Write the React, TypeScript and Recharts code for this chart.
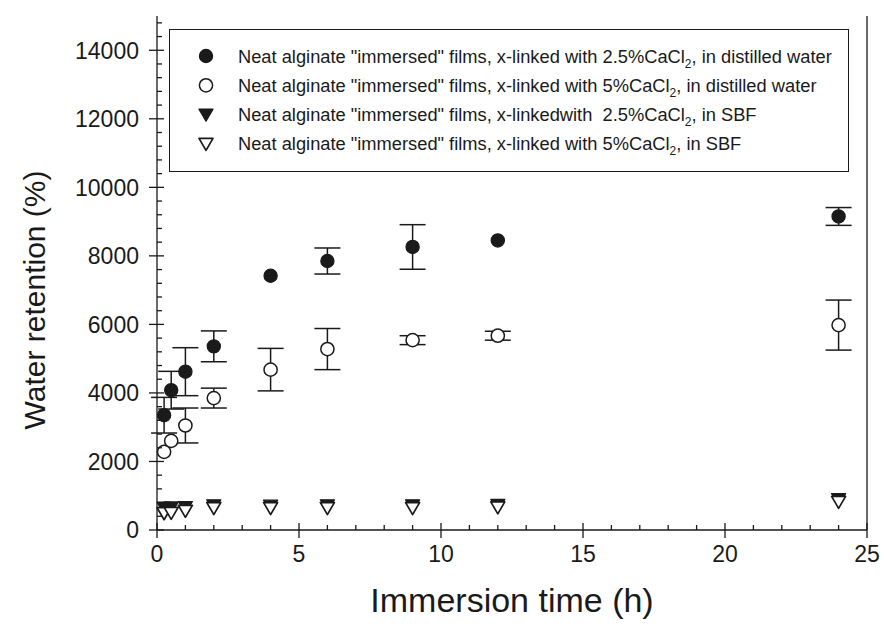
import React from 'react';
import { ScatterChart, Scatter, XAxis, YAxis, ErrorBar, Legend } from 'recharts';

// Immersion time (h)
const times = [0.25, 0.5, 1, 2, 4, 6, 9, 12, 24];
// 2.5% CaCl2, distilled water
const dw25 = [3350, 4080, 4620, 5360, 7420, 7850, 8260, 8450, 9150];
const dw25Err = [520, 550, 700, 450, 0, 380, 650, 0, 260];
// 5% CaCl2, distilled water
const dw5 = [2280, 2600, 3050, 3850, 4680, 5280, 5540, 5670, 5980];
const dw5Err = [0, 0, 510, 290, 620, 600, 130, 130, 730];
// 2.5% CaCl2, SBF
const sbf25 = [650, 660, 670, 720, 710, 720, 720, 730, 900];
// 5% CaCl2, SBF
const sbf5 = [490, 500, 560, 640, 640, 640, 640, 660, 820];

const xAllTicks = Array.from({ length: 26 }, (_, i) => i);
const yAllTicks = Array.from({ length: 38 }, (_, i) => i * 400);

const seriesNames = [
  ['Neat alginate "immersed" films, x-linked with 2.5%CaCl', '2', ', in distilled water'],
  ['Neat alginate "immersed" films, x-linked with 5%CaCl', '2', ', in distilled water'],
  ['Neat alginate "immersed" films, x-linkedwith  2.5%CaCl', '2', ', in SBF'],
  ['Neat alginate "immersed" films, x-linked with 5%CaCl', '2', ', in SBF'],
];
const markerKinds = ['filledCircle', 'openCircle', 'filledTri', 'openTri'];

const xTitle = 'Immersion time (h)';
const yTitle = 'Water retention (%)';

const INK = '#1a1a1a';
const FONT = "'Liberation Sans', Arial, sans-serif";

const mk = (ys: number[], errs?: number[]) =>
  times.map((t, i) => ({ x: t, y: ys[i], err: errs ? errs[i] : 0 }));

const Marker = ({ kind, cx, cy }: { kind: string; cx: number; cy: number }) => {
  if (kind === 'filledCircle')
    return <circle cx={cx} cy={cy} r={6.6} fill={INK} stroke={INK} strokeWidth={1.2} />;
  if (kind === 'openCircle')
    return <circle cx={cx} cy={cy} r={6.6} fill="#fff" stroke={INK} strokeWidth={1.5} />;
  const pts = `${cx - 7},${cy - 5.5} ${cx + 7},${cy - 5.5} ${cx},${cy + 6.5}`;
  if (kind === 'filledTri') return <polygon points={pts} fill={INK} stroke={INK} strokeWidth={1.3} strokeLinejoin="round" />;
  return <polygon points={pts} fill="#fff" stroke={INK} strokeWidth={1.7} strokeLinejoin="round" />;
};

const shapeFor = (kind: string) => (p: any) => <Marker kind={kind} cx={p.cx} cy={p.cy} />;

const XTick = ({ x, y, payload, top }: any) => {
  const v = payload.value;
  const major = v % 5 === 0;
  const s = top ? 1 : -1; // inward direction
  return (
    <g>
      <line x1={x} x2={x} y1={y} y2={y + s * (major ? 7 : 5)} stroke={INK} strokeWidth={1.3} />
      {major && <line x1={x} x2={x} y1={y} y2={y - s * 8} stroke={INK} strokeWidth={1.3} />}
      {major && !top && (
        <text x={x} y={y + 32} textAnchor="middle" fontFamily={FONT} fontSize={23} fill={INK}>
          {v}
        </text>
      )}
    </g>
  );
};

const YTick = ({ x, y, payload, right }: any) => {
  const v = payload.value;
  const major = v % 2000 === 0;
  const s = right ? -1 : 1;
  return (
    <g>
      <line x1={x} x2={x + s * (major ? 7 : 5)} y1={y} y2={y} stroke={INK} strokeWidth={1.3} />
      {major && <line x1={x} x2={x - s * 8} y1={y} y2={y} stroke={INK} strokeWidth={1.3} />}
      {major && !right && (
        <text x={x - 18} y={y} dy="0.36em" textAnchor="end" fontFamily={FONT} fontSize={23} fill={INK}>
          {v}
        </text>
      )}
    </g>
  );
};

const LegendBox = () => (
  <div
    style={{
      width: 680,
      height: 143,
      border: `1.5px solid ${INK}`,
      boxSizing: 'border-box',
      background: '#fff',
    }}
  >
    <svg width={677} height={140} style={{ display: 'block', overflow: 'visible' }}>
      {seriesNames.map((parts, i) => {
        const cy = 26 + i * 29.3;
        return (
          <g key={i}>
            <Marker kind={markerKinds[i]} cx={36} cy={cy} />
            <text
              x={68}
              y={cy}
              dy="0.36em"
              fontFamily={FONT}
              fontSize={18.3}
              fill={INK}
              style={{ whiteSpace: 'pre' }}
            >
              {parts[0]}
              <tspan fontSize={12} dy={5}>{parts[1]}</tspan>
              <tspan dy={-5}>{parts[2]}</tspan>
            </text>
          </g>
        );
      })}
    </svg>
  </div>
);

export default function App() {
  return (
    <div style={{ position: 'absolute', left: 0, top: 0, width: 884, height: 626, background: '#fff' }}>
      <ScatterChart width={884} height={626} margin={{ top: 16, right: 0, bottom: 0, left: 0 }}>
        <XAxis
          xAxisId={0}
          dataKey="x"
          type="number"
          domain={[0, 25]}
          ticks={xAllTicks}
          interval={0}
          height={96}
          tickSize={0}
          tickMargin={0}
          tickLine={false}
          axisLine={{ stroke: INK, strokeWidth: 1.3 }}
          tick={<XTick />}
          label={() => (
            <text x={512} y={612} textAnchor="middle" fontFamily={FONT} fontSize={34} fill={INK}>
              {xTitle}
            </text>
          )}
        />
        <XAxis
          xAxisId="top"
          orientation="top"
          type="number"
          dataKey="x"
          domain={[0, 25]}
          ticks={xAllTicks}
          interval={0}
          height={0}
          tickSize={0}
          tickMargin={0}
          tickLine={false}
          axisLine={{ stroke: INK, strokeWidth: 1.3 }}
          tick={<XTick top />}
        />
        <YAxis
          yAxisId={0}
          dataKey="y"
          type="number"
          domain={[0, 15000]}
          ticks={yAllTicks}
          interval={0}
          width={157}
          tickSize={0}
          tickMargin={0}
          tickLine={false}
          axisLine={{ stroke: INK, strokeWidth: 1.3 }}
          tick={<YTick />}
          label={() => (
            <text
              x={45}
              y={300}
              transform="rotate(-90 45 300)"
              textAnchor="middle"
              fontFamily={FONT}
              fontSize={30}
              fill={INK}
            >
              {yTitle}
            </text>
          )}
        />
        <YAxis
          yAxisId="right"
          orientation="right"
          type="number"
          dataKey="y"
          domain={[0, 15000]}
          ticks={yAllTicks}
          interval={0}
          width={17}
          tickSize={0}
          tickMargin={0}
          tickLine={false}
          axisLine={{ stroke: INK, strokeWidth: 1.3 }}
          tick={<YTick right />}
        />
        <Legend
          layout="vertical"
          align="center"
          verticalAlign="middle"
          wrapperStyle={{ position: 'absolute', left: 169, top: 29, width: 680, height: 143 }}
          content={() => <LegendBox />}
        />
        <Scatter name="a" data={mk(dw25, dw25Err)} shape={shapeFor('filledCircle')} isAnimationActive={false}>
          <ErrorBar dataKey="err" direction="y" width={13} stroke={INK} strokeWidth={1.5} isAnimationActive={false} />
        </Scatter>
        <Scatter name="b" data={mk(dw5, dw5Err)} shape={shapeFor('openCircle')} isAnimationActive={false}>
          <ErrorBar dataKey="err" direction="y" width={13} stroke={INK} strokeWidth={1.5} isAnimationActive={false} />
        </Scatter>
        <Scatter name="c" data={mk(sbf25)} shape={shapeFor('filledTri')} isAnimationActive={false} />
        <Scatter name="d" data={mk(sbf5)} shape={shapeFor('openTri')} isAnimationActive={false} />
      </ScatterChart>
    </div>
  );
}
